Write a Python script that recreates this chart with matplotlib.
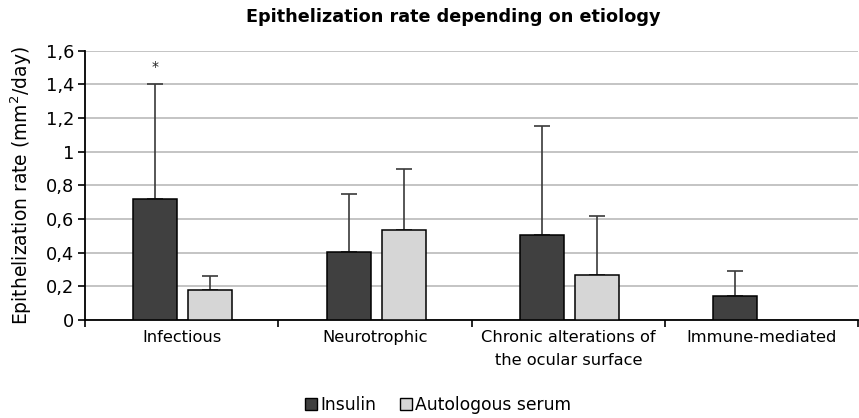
import matplotlib
matplotlib.use("Agg")
import matplotlib.pyplot as plt
import numpy as np
from matplotlib.patches import Patch
from matplotlib.ticker import FixedLocator

categories = ["Infectious", "Neurotrophic", "Chronic alterations of\nthe ocular surface", "Immune-mediated"]
insulin = [0.72, 0.405, 0.505, 0.14]
insulin_sd = [0.68, 0.345, 0.65, 0.15]
serum = [0.178, 0.533, 0.267, np.nan]
serum_sd = [0.085, 0.367, 0.353, np.nan]
yticks = [0, 0.2, 0.4, 0.6, 0.8, 1.0, 1.2, 1.4, 1.6]
ytick_labels = ["0", "0,2", "0,4", "0,6", "0,8", "1", "1,2", "1,4", "1,6"]

plt.rcParams['font.family'] = ['DejaVu Sans']

fig = plt.figure(figsize=(8.59, 4.18), dpi=100)
ax = fig.add_axes([85/859, 1-320/418, 1-85/859-0.0006, (320-50.7)/418])

x = np.arange(len(categories))
w = 0.227
dark = "#404040"
light = "#d6d6d6"

ax.bar(x - 0.137, insulin, w, color=dark, edgecolor="black", linewidth=1.1, zorder=3)
ax.bar(x + 0.148, serum, w, color=light, edgecolor="black", linewidth=1.1, zorder=3)
ax.errorbar(x - 0.137, insulin, yerr=[np.zeros(len(insulin)), insulin_sd], fmt="none",
            ecolor="#3a3a3a", elinewidth=1.2, capsize=6, capthick=1.2, zorder=2)
ax.errorbar(x + 0.148, serum, yerr=[np.zeros(len(serum)), serum_sd], fmt="none",
            ecolor="#3a3a3a", elinewidth=1.2, capsize=6, capthick=1.2, zorder=2)

ax.text(x[0] - 0.137, insulin[0] + insulin_sd[0] + 0.06, "*", ha="center", va="bottom",
        fontsize=10, color="#222222")

ax.set_xlim(-0.5, len(categories) - 0.5)
ax.set_ylim(0, 1.6)
ax.set_yticks(yticks)
ax.set_yticklabels(ytick_labels, fontsize=12.8)
ax.set_xticks(x)
ax.set_xticklabels(categories, fontsize=11.7, linespacing=1.65)
ax.xaxis.set_minor_locator(FixedLocator(np.arange(-0.5, len(categories), 1.0)))
ax.tick_params(axis="x", which="major", length=0, pad=7)
ax.tick_params(axis="x", which="minor", length=5, width=1.2, direction="out", color="black")
ax.tick_params(axis="y", length=5, width=1.2, direction="out", pad=3)

ax.grid(axis="y", color="#c4c4c4", linewidth=1.4, zorder=0)
ax.set_axisbelow(True)
for s in ["top", "right"]:
    ax.spines[s].set_visible(False)
ax.spines["left"].set_linewidth(1.3)
ax.spines["bottom"].set_linewidth(1.3)

ax.set_ylabel("Epithelization rate (mm$^2$/day)", fontsize=13.5, labelpad=8)
fig.text(453/859, 1-17/418, "Epithelization rate depending on etiology", ha="center", va="center",
         fontsize=12.7, fontweight="bold")

handles = [Patch(facecolor=dark, edgecolor="black", linewidth=1.0, label="Insulin"),
           Patch(facecolor=light, edgecolor="black", linewidth=1.0, label="Autologous serum")]
fig.legend(handles=handles, loc="center", bbox_to_anchor=(438/859, 1-405/418), ncol=2,
           frameon=False, fontsize=12.3, handlelength=0.7, handleheight=0.7, handletextpad=0.2,
           columnspacing=1.4)

fig.savefig("out.png", dpi=100)
